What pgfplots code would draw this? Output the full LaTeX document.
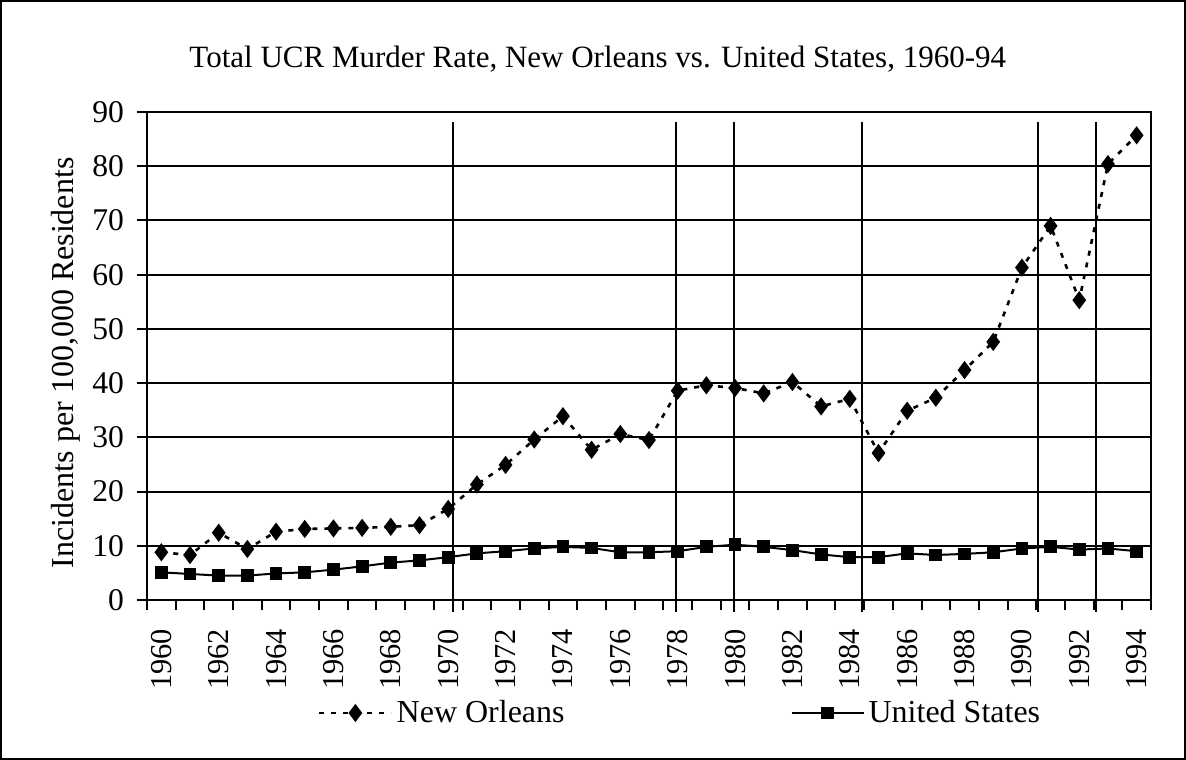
\documentclass[border=0pt]{standalone}
\usepackage{pgfplots}
\pgfplotsset{compat=1.18}
\usepackage{fontspec}
\setmainfont{Liberation Serif}
\begin{document}
\begin{tikzpicture}
\draw[line width=1bp] (0.5bp,0.5bp) rectangle (592.5bp,379.5bp);
\begin{axis}[
  at={(73.5bp,80bp)}, anchor=south west,
  scale only axis, width=502bp, height=244bp,
  xmin=-0.5, xmax=34.5, ymin=0, ymax=90,
  clip=false,
  axis line style={line width=1.2bp},
  font=\fontsize{15.8bp}{18bp}\selectfont,
  /pgf/number format/assume math mode=true,
  ytick={0,10,...,90},
  ymajorgrids, major grid style={line width=1bp, black},
  xtick={-0.5,0.5,...,34.5}, xticklabels={},
  extra x ticks={0,2,...,34},
  extra x tick labels={1960,1962,1964,1966,1968,1970,1972,1974,1976,1978,1980,1982,1984,1986,1988,1990,1992,1994},
  extra x tick style={tick style={draw=none}, grid=none,
     tick label style={rotate=90, anchor=east, xshift=-6bp, font=\fontsize{15.2bp}{16bp}\selectfont}},
  tick align=outside, xtick pos=bottom, ytick pos=left,
  major tick length=5bp,
  tick style={line width=1bp, black},
  yticklabel style={xshift=-3bp, font=\fontsize{15.8bp}{18bp}\selectfont},
  title={Total UCR Murder Rate, New Orleans vs. United States, 1960-94},
  title style={at={(axis description cs:0.449,1.084)}, anchor=center, font=\fontsize{15.5bp}{18bp}\selectfont},
  ylabel={Incidents per 100,000 Residents},
  ylabel style={at={(axis description cs:-0.0807,0.486)}, anchor=center, rotate=0, font=\fontsize{16bp}{18bp}\selectfont},
  legend columns=2,
  legend style={at={(axis description cs:0.532,-0.2316)}, anchor=center, draw=none, fill=none,
     /tikz/every even column/.append style={column sep=111bp},
     font=\fontsize{16bp}{18bp}\selectfont},
  legend image code/.code={\draw[mark repeat=2, mark phase=2, #1] plot coordinates {(0bp,0bp) (18bp,0bp) (36bp,0bp)};},
]
\addplot[black, line width=1.3bp, dash pattern=on 2.5bp off 3.5bp, mark=diamond*, mark size=3.5bp, mark options={solid}] coordinates {
(0,8.8) (1,8.3) (2,12.4) (3,9.4) (4,12.6) (5,13.1) (6,13.2) (7,13.3) (8,13.5) (9,13.8)
(10,16.8) (11,21.3) (12,24.9) (13,29.6) (14,33.9) (15,27.7) (16,30.6) (17,29.5) (18,38.6) (19,39.6)
(20,39.1) (21,38.1) (22,40.2) (23,35.7) (24,37.1) (25,27.1) (26,34.9) (27,37.3) (28,42.4) (29,47.6)
(30,61.3) (31,69.0) (32,55.3) (33,80.4) (34,85.7)};
\addlegendentry{New Orleans}
\addplot[black, line width=1bp, mark=square*, mark size=2.7bp] coordinates {
(0,5.1) (1,4.8) (2,4.5) (3,4.5) (4,4.9) (5,5.1) (6,5.6) (7,6.2) (8,6.9) (9,7.3)
(10,7.9) (11,8.6) (12,9.0) (13,9.5) (14,9.8) (15,9.6) (16,8.8) (17,8.8) (18,9.0) (19,9.8)
(20,10.2) (21,9.8) (22,9.2) (23,8.4) (24,7.9) (25,7.9) (26,8.6) (27,8.3) (28,8.5) (29,8.8)
(30,9.5) (31,9.8) (32,9.3) (33,9.5) (34,9.0)};
\addlegendentry{United States}
\addplot[black, line width=1bp, forget plot] coordinates {(10.18,-2.2) (10.18,88.2)};
\addplot[black, line width=1bp, forget plot] coordinates {(17.94,-2.2) (17.94,88.2)};
\addplot[black, line width=1bp, forget plot] coordinates {(19.96,-2.2) (19.96,88.2)};
\addplot[black, line width=1bp, forget plot] coordinates {(24.42,-2.2) (24.42,88.2)};
\addplot[black, line width=1bp, forget plot] coordinates {(30.55,-2.2) (30.55,88.2)};
\addplot[black, line width=1bp, forget plot] coordinates {(32.58,-2.2) (32.58,88.2)};
\end{axis}
\end{tikzpicture}
\end{document}
